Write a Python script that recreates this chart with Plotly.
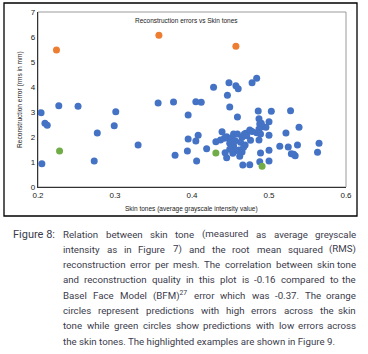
import re
import plotly.graph_objects as go

# ---- data ----
blue_x = [0.204, 0.227, 0.252, 0.209, 0.212, 0.205, 0.277, 0.273, 0.301, 0.299, 0.330, 0.356, 0.376, 0.395, 0.395, 0.378, 0.394,
          0.428, 0.448, 0.457, 0.460, 0.478, 0.484, 0.446, 0.405, 0.412, 0.449, 0.486, 0.503, 0.528, 0.459, 0.487, 0.500, 0.488,
          0.492, 0.496, 0.539, 0.522, 0.408, 0.405, 0.419, 0.406,
          0.487, 0.484, 0.489, 0.500, 0.487, 0.475, 0.470, 0.439, 0.431, 0.437, 0.445, 0.449, 0.454, 0.459, 0.465, 0.468, 0.476,
          0.449, 0.454, 0.463, 0.469, 0.467, 0.461, 0.465, 0.457, 0.449, 0.453, 0.443, 0.445, 0.462, 0.466, 0.475, 0.488, 0.500,
          0.489, 0.500, 0.514, 0.525, 0.529, 0.534, 0.537, 0.532, 0.563, 0.565, 0.442, 0.452, 0.471, 0.478, 0.456, 0.490]
blue_y = [2.97, 3.25, 3.23, 2.55, 2.47, 0.93, 2.16, 1.04, 3.01, 2.45, 1.68, 3.36, 3.40, 2.88, 1.92, 1.27, 1.44,
          3.99, 4.17, 4.05, 3.93, 4.17, 4.35, 3.67, 3.41, 3.39, 3.20, 3.04, 3.03, 3.05, 2.80, 2.73, 2.61, 2.52,
          2.41, 2.39, 2.39, 2.16, 2.07, 1.84, 1.53, 1.04,
          2.32, 2.17, 2.12, 2.07, 1.88, 2.28, 2.15, 2.21, 1.81, 1.88, 2.01, 1.91, 2.12, 2.12, 1.99, 2.12, 1.87,
          1.75, 1.64, 1.79, 1.68, 1.59, 1.48, 1.40, 1.45, 1.51, 1.35, 1.37, 1.17, 1.23, 0.88, 0.89, 1.01, 1.04,
          1.36, 1.47, 1.63, 1.60, 1.33, 1.25, 1.68, 1.31, 1.39, 1.75, 1.95, 1.98, 2.05, 2.22, 1.85, 2.55]
orange_x = [0.224, 0.357, 0.457]
orange_y = [5.48, 6.07, 5.63]
green_x = [0.228, 0.431, 0.491]
green_y = [1.44, 1.36, 0.83]

x_ticks = [0.2, 0.3, 0.4, 0.5, 0.6]
x_tick_text = ["0.2", "0.3", "0.4", "0.5", "0.6"]
y_ticks = [0, 1, 2, 3, 4, 5, 6, 7]

chart_title = "Reconstruction errors vs Skin tones"
x_title = "Skin tones (average grayscale intensity value)"
y_title = "Reconstruction error (rms in mm)"
caption_label = "Figure 8:"
caption_lines = [
    "Relation between skin tone (measured as average greyscale",
    "intensity as in Figure 7) and the root mean squared (RMS)",
    "reconstruction error per mesh. The correlation between skin tone",
    "and reconstruction quality in this plot is -0.16 compared to the",
    "Basel Face Model (BFM)<sup>27</sup> error which was -0.37. The orange",
    "circles represent predictions with high errors across the skin",
    "tone while green circles show predictions with low errors across",
    "the skin tones. The highlighted examples are shown in Figure 9.",
]

# ---- layout geometry (pixels) ----
W, H = 368, 354
PL, PR, PT, PB = 38, 346, 12, 187


def px(x):
    return (x - PL) / (PR - PL)


def py(y):
    return (PB - y) / (PB - PT)


CHART_FONT = "Liberation Sans, Arial, sans-serif"
CAP_FONT = "Roboto, sans-serif"
CAP_COLOR = "#3b3b4b"
CAP_SIZE = 9.7
CAP_LEFT, CAP_RIGHT = 62, 357

# approximate Roboto Regular advance widths (units per 2048 em) for justification
_RW = {' ': 507, '(': 699, ')': 711, ',': 393, '-': 553, '.': 528, ':': 496,
       'A': 1336, 'B': 1275, 'C': 1333, 'F': 1132, 'M': 1788, 'R': 1260, 'S': 1216, 'T': 1221,
       'a': 1114, 'b': 1120, 'c': 1045, 'd': 1123, 'e': 1058, 'f': 693, 'g': 1120, 'h': 1100,
       'i': 485, 'j': 477, 'k': 1012, 'l': 485, 'm': 1751, 'n': 1102, 'o': 1139, 'p': 1120,
       'q': 1131, 'r': 677, 's': 1030, 't': 653, 'u': 1101, 'v': 967, 'w': 1502, 'x': 989,
       'y': 945, 'z': 989}
FUDGE = 1.03


def text_width(word, size):
    total = 0.0
    parts = re.split(r"(<sup>.*?</sup>)", word)
    for part in parts:
        if part.startswith("<sup>"):
            inner = part[5:-6]
            total += sum(_RW.get(c, 1150) for c in inner) * 0.7
        else:
            total += sum(_RW.get(c, 1150) for c in part)
    return total / 2048 * size * FUDGE


fig = go.Figure()
fig.add_trace(go.Scatter(x=blue_x, y=blue_y, mode="markers",
                         marker=dict(color="#4472C4", size=7), showlegend=False))
fig.add_trace(go.Scatter(x=orange_x, y=orange_y, mode="markers",
                         marker=dict(color="#ED7D31", size=7), showlegend=False))
fig.add_trace(go.Scatter(x=green_x, y=green_y, mode="markers",
                         marker=dict(color="#70AD47", size=7), showlegend=False))

annotations = [
    dict(text=chart_title, x=px(186), y=py(20), xref="paper", yref="paper",
         showarrow=False, font=dict(family=CHART_FONT, size=6.5, color="#222"),
         xanchor="center", yanchor="middle"),
    dict(text=x_title, x=px(191), y=py(209), xref="paper", yref="paper",
         showarrow=False, font=dict(family=CHART_FONT, size=6.5, color="#222"),
         xanchor="center", yanchor="middle"),
    dict(text=y_title, x=px(20), y=py(100), xref="paper", yref="paper",
         showarrow=False, textangle=-90, font=dict(family=CHART_FONT, size=6.6, color="#222"),
         xanchor="center", yanchor="middle"),
    dict(text=caption_label, x=px(12), y=py(234), xref="paper", yref="paper",
         showarrow=False, font=dict(family=CAP_FONT, size=11, color=CAP_COLOR),
         xanchor="left", yanchor="middle", borderpad=0),
]

for i, line in enumerate(caption_lines):
    ly = py(234 + i * 15.3)
    if i == len(caption_lines) - 1:
        annotations.append(dict(text=line, x=px(CAP_LEFT), y=ly, xref="paper", yref="paper",
                                showarrow=False, font=dict(family=CAP_FONT, size=CAP_SIZE, color=CAP_COLOR),
                                xanchor="left", yanchor="middle", borderpad=0))
        continue
    words = line.split(" ")
    widths = [text_width(w, CAP_SIZE) for w in words]
    gap = (CAP_RIGHT - CAP_LEFT - sum(widths)) / (len(words) - 1)
    xpos = CAP_LEFT
    for j, (w, wd) in enumerate(zip(words, widths)):
        if j == len(words) - 1:
            annotations.append(dict(text=w, x=px(CAP_RIGHT), y=ly, xref="paper", yref="paper",
                                    showarrow=False, font=dict(family=CAP_FONT, size=CAP_SIZE, color=CAP_COLOR),
                                    xanchor="right", yanchor="middle", borderpad=0))
        else:
            annotations.append(dict(text=w, x=px(xpos), y=ly, xref="paper", yref="paper",
                                    showarrow=False, font=dict(family=CAP_FONT, size=CAP_SIZE, color=CAP_COLOR),
                                    xanchor="left", yanchor="middle", borderpad=0))
        xpos += wd + gap

shapes = [
    # outer chart border
    dict(type="rect", xref="paper", yref="paper", x0=px(4), x1=px(357), y0=py(216), y1=py(3),
         line=dict(color="#000", width=1.3), layer="below"),
    # plot area border
    dict(type="rect", xref="paper", yref="paper", x0=0, x1=1, y0=0, y1=1,
         line=dict(color="#9a9a9a", width=1), layer="below"),
]

fig.update_layout(
    width=W, height=H,
    margin=dict(l=PL, r=W - PR, t=PT, b=H - PB, autoexpand=False),
    paper_bgcolor="white", plot_bgcolor="white",
    annotations=annotations, shapes=shapes,
    xaxis=dict(range=[0.2, 0.6], tickvals=x_ticks, ticktext=x_tick_text, showgrid=False, zeroline=False,
               showline=True, linecolor="#333", linewidth=1.2, ticks="", automargin=False,
               tickfont=dict(family=CHART_FONT, size=8, color="#222")),
    yaxis=dict(range=[0, 7], tickvals=y_ticks, showgrid=False, zeroline=False,
               showline=True, linecolor="#333", linewidth=1.2, ticks="", automargin=False,
               tickfont=dict(family=CHART_FONT, size=8, color="#222")),
)

fig.write_html("out.html", config={"displayModeBar": False},
               post_script="document.body.style.margin='0';document.body.style.padding='0';")
